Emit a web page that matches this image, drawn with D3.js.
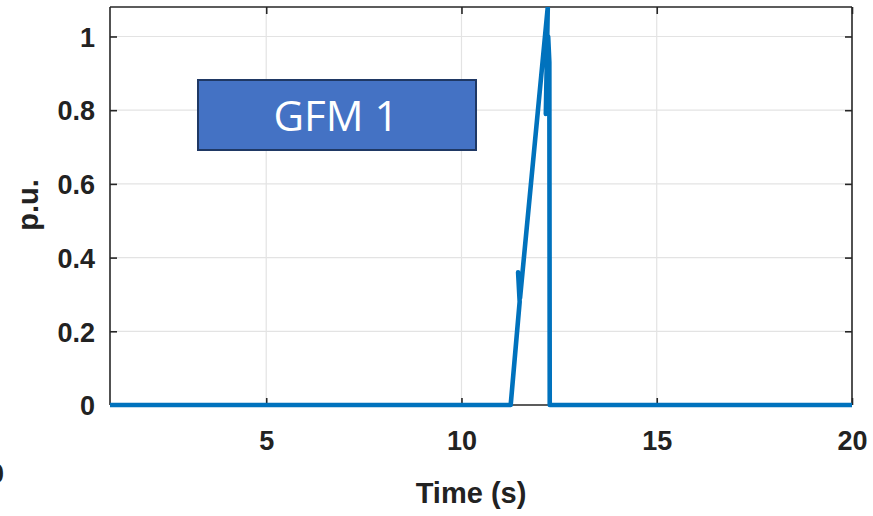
<!DOCTYPE html>
<html>
<head>
<meta charset="utf-8">
<script src="https://cdn.jsdelivr.net/npm/d3@7"></script>
<style>
  html, body { margin: 0; padding: 0; background: #fff; }
  svg { display: block; }
</style>
</head>
<body>
<svg id="chart" width="873" height="516"></svg>
<script>
// Simulated signal (p.u.) against time (s)
const time   = [1, 11.26, 11.49, 11.45, 11.50, 12.21, 12.16, 12.22, 12.25, 12.26, 20];
const values = [0, 0,     0.28,  0.36,  0.29,  1.08,  0.79,  1.0,   0.93,  0,     0];

const xTicks = [5, 10, 15, 20];
const yTicks = [0, 0.2, 0.4, 0.6, 0.8, 1];
const xDomain = [1, 20];
const yDomain = [0, 1.08];

const boxLabel = "GFM 1";
const xLabel = "Time (s)";
const yLabel = "p.u.";

const svg = d3.select("#chart");
const plot = { left: 110, top: 7, right: 852, bottom: 405 };

const x = d3.scaleLinear().domain(xDomain).range([plot.left, plot.right]);
const y = d3.scaleLinear().domain(yDomain).range([plot.bottom, plot.top]);

const tickFont = "'Liberation Sans', Arial, sans-serif";

// grid lines
const grid = svg.append("g");
grid.selectAll("line.gx").data(xTicks.filter(t => t < xDomain[1])).join("line")
  .attr("x1", d => x(d)).attr("x2", d => x(d))
  .attr("y1", plot.top).attr("y2", plot.bottom)
  .attr("stroke", "#e3e3e3").attr("stroke-width", 1.2);
grid.selectAll("line.gy").data(yTicks.filter(t => t > 0)).join("line")
  .attr("x1", plot.left).attr("x2", plot.right)
  .attr("y1", d => y(d)).attr("y2", d => y(d))
  .attr("stroke", "#e3e3e3").attr("stroke-width", 1.2);

// axes with inward ticks on all four sides
const axisColor = "#262626";
const tickLen = 7;
const bottomAxis = svg.append("g").attr("transform", `translate(0,${plot.bottom})`)
  .call(d3.axisBottom(x).tickValues(xTicks).tickSizeInner(-tickLen).tickSizeOuter(0).tickPadding(26));
const topAxis = svg.append("g").attr("transform", `translate(0,${plot.top})`)
  .call(d3.axisTop(x).tickValues(xTicks).tickSizeInner(-tickLen).tickSizeOuter(0).tickFormat(""));
const leftAxis = svg.append("g").attr("transform", `translate(${plot.left},0)`)
  .call(d3.axisLeft(y).tickValues(yTicks).tickSizeInner(-tickLen).tickSizeOuter(0).tickPadding(15).tickFormat(d3.format("~g")));
const rightAxis = svg.append("g").attr("transform", `translate(${plot.right},0)`)
  .call(d3.axisRight(y).tickValues(yTicks).tickSizeInner(-tickLen).tickSizeOuter(0).tickFormat(""));

[bottomAxis, topAxis, leftAxis, rightAxis].forEach(g => {
  g.select(".domain").attr("stroke", axisColor).attr("stroke-width", 1.6);
  g.selectAll(".tick line").attr("stroke", axisColor).attr("stroke-width", 1.6);
  g.selectAll(".tick text")
    .attr("fill", "#222")
    .style("font-family", tickFont)
    .style("font-weight", "bold")
    .style("font-size", "27px");
});
// full-length domain lines for the box
bottomAxis.select(".domain").attr("d", `M${plot.left},0H${plot.right}`);
topAxis.select(".domain").attr("d", `M${plot.left},0H${plot.right}`);
leftAxis.select(".domain").attr("d", `M0,${plot.top}V${plot.bottom}`);
rightAxis.select(".domain").attr("d", `M0,${plot.top}V${plot.bottom}`);
leftAxis.selectAll(".tick text").attr("dy", "0.36em");

// clip the trace to the axes area (a little slack at the bottom)
svg.append("clipPath").attr("id", "plotClip").append("rect")
  .attr("x", plot.left).attr("y", plot.top)
  .attr("width", plot.right - plot.left).attr("height", plot.bottom - plot.top + 6);

const line = d3.line().x((d, i) => x(time[i])).y(d => y(d));
svg.append("path")
  .attr("clip-path", "url(#plotClip)")
  .attr("d", line(values))
  .attr("fill", "none")
  .attr("stroke", "#0072BD")
  .attr("stroke-width", 4.6)
  .attr("stroke-linejoin", "round")
  .attr("stroke-linecap", "butt");

// annotation box
const box = svg.append("g");
box.append("rect")
  .attr("x", 198).attr("y", 80).attr("width", 278).attr("height", 70)
  .attr("fill", "#4472C4").attr("stroke", "#1F3864").attr("stroke-width", 2);
box.append("text")
  .attr("x", 336).attr("y", 131)
  .attr("text-anchor", "middle")
  .attr("fill", "#ffffff")
  .style("font-family", "'Open Sans', 'Noto Sans', sans-serif")
  .style("font-size", "42px")
  .text(boxLabel);

// axis labels
svg.append("text")
  .attr("x", 471).attr("y", 503)
  .attr("text-anchor", "middle")
  .attr("fill", "#222")
  .style("font-family", tickFont).style("font-weight", "bold").style("font-size", "29px")
  .text(xLabel);

svg.append("text")
  .attr("transform", "translate(38,205) rotate(-90)")
  .attr("text-anchor", "middle")
  .attr("fill", "#222")
  .style("font-family", tickFont).style("font-weight", "bold").style("font-size", "29px")
  .text(yLabel);

// edge of a neighbouring tick label at the lower-left corner
svg.append("text")
  .attr("x", 4).attr("y", 483)
  .attr("text-anchor", "end")
  .attr("fill", "#222")
  .style("font-family", tickFont).style("font-weight", "bold").style("font-size", "27px")
  .text("20");
</script>
</body>
</html>
